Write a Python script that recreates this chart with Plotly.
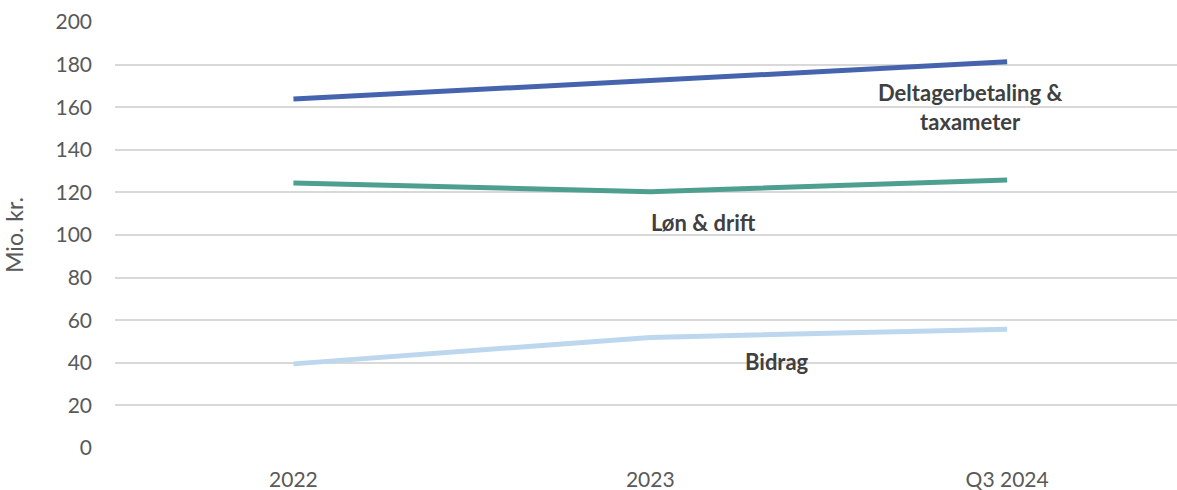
import plotly.graph_objects as go

# Periods on the category axis
periods = ["2022", "2023", "Q3 2024"]

# Series values (Mio. kr.)
deltager = [163.8, 172.6, 181.3]
loen_drift = [124.4, 120.3, 125.8]
bidrag = [39.5, 51.9, 55.8]

series_names = ["Deltagerbetaling &<br>taxameter", "Løn & drift", "Bidrag"]
series_values = [deltager, loen_drift, bidrag]
series_colors = ["#4564AD", "#4E9F8F", "#BDD7EE"]

# Where each series label sits (category index, value)
label_pos = [(1.896, 160.2), (1.148, 106), (1.356, 40.5)]

fig = go.Figure()
for name, vals, col in zip(series_names, series_values, series_colors):
    fig.add_trace(go.Scatter(
        x=list(range(len(periods))), y=vals, mode="lines",
        line=dict(color=col, width=5), name=name, showlegend=False,
    ))

for name, (lx, ly) in zip(series_names, label_pos):
    fig.add_annotation(
        x=lx, y=ly, xref="x", yref="y", text=f"<b>{name}</b>",
        showarrow=False, align="center",
        font=dict(family="Lato", size=22, color="#404040"),
    )

fig.update_layout(
    width=1177, height=490,
    margin=dict(l=115, r=0, t=22, b=42),
    paper_bgcolor="white", plot_bgcolor="white",
    font=dict(family="Lato", size=21, color="#595959"),
)
fig.update_xaxes(
    tickmode="array", tickvals=list(range(len(periods))), ticktext=periods,
    range=[-0.5, 2.476], showgrid=False, zeroline=False, showline=False,
    ticks="", ticklabelstandoff=17,
)
fig.update_yaxes(
    range=[0, 200], dtick=20, showgrid=True, gridcolor="#D9D9D9", gridwidth=1.5,
    zeroline=False, showline=False, ticks="", ticklabelstandoff=22,
    title=dict(text="Mio. kr.", standoff=26, font=dict(size=23, color="#595959")),
)

fig.write_html("out.html")
